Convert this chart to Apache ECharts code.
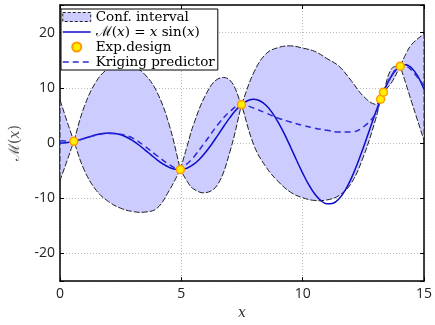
<!DOCTYPE html>
<html>
<head>
<meta charset="utf-8">
<script src="https://cdn.jsdelivr.net/npm/echarts@6/dist/echarts.min.js"></script>
<style>
  html, body { margin: 0; padding: 0; background: #fff; }
  #chart { width: 435px; height: 325px; }
</style>
</head>
<body>
<div id="chart"></div>
<script>
// M(x) = x sin(x), sampled every 0.25
const modelX = [0, 0.25, 0.5, 0.75, 1, 1.25, 1.5, 1.75, 2, 2.25, 2.5, 2.75, 3, 3.25, 3.5, 3.75,
  4, 4.25, 4.5, 4.75, 5, 5.25, 5.5, 5.75, 6, 6.25, 6.5, 6.75, 7, 7.25, 7.5, 7.75,
  8, 8.25, 8.5, 8.75, 9, 9.25, 9.5, 9.75, 10, 10.25, 10.5, 10.75, 11, 11.25, 11.5, 11.75,
  12, 12.25, 12.5, 12.75, 13, 13.25, 13.5, 13.75, 14, 14.25, 14.5, 14.75, 15];
const modelY = [0, 0.06, 0.24, 0.51, 0.84, 1.19, 1.50, 1.72, 1.82, 1.75, 1.50, 1.05, 0.42, -0.35, -1.23, -2.14,
  -3.03, -3.80, -4.40, -4.75, -4.79, -4.51, -3.88, -2.92, -1.68, -0.21, 1.40, 3.04, 4.60, 5.97, 7.04, 7.71,
  7.91, 7.61, 6.79, 5.47, 3.71, 1.61, -0.71, -3.12, -5.44, -7.53, -9.24, -10.43, -11.00, -10.89, -10.07, -8.56,
  -6.44, -3.81, -0.83, 2.33, 5.46, 8.37, 10.85, 12.73, 13.87, 14.16, 13.56, 12.07, 9.75];

// experimental design
const designX = [0.57, 4.96, 7.48, 13.21, 13.33, 14.02];
const designY = [0.31, -4.81, 6.96, 7.93, 9.22, 13.92];

// kriging predictor + confidence bounds
const krigX = [0, 0.3, 0.57, 1, 1.5, 2, 2.5, 3, 3.5, 4, 4.5, 4.96, 5.25, 5.5, 6, 6.5, 7, 7.48,
  8, 8.5, 9, 9.5, 10, 10.5, 11, 11.5, 12, 12.5, 13, 13.21, 13.33, 13.67, 14.02, 14.25, 14.5, 15];
const krigY = [0.4, 0.35, 0.31, 0.85, 1.4, 1.75, 1.6, 0.9, -0.6, -2.3, -3.9, -4.81, -3.7, -2.6, 0.3, 3.3, 5.7, 6.96,
  6.3, 5.4, 4.5, 3.8, 3.2, 2.7, 2.3, 2.0, 2.0, 2.9, 5.3, 7.93, 9.22, 12.3, 13.92, 13.9, 13.1, 10.4];
const ciUpper = [7.8, 3.8, 0.31, 6.6, 11.2, 13.5, 14.1, 13.9, 12.4, 9.2, 3.3, -4.81, -0.4, 3.3, 8.7, 11.6, 11.4, 6.96,
  12.9, 16.2, 17.3, 17.6, 17.2, 16.6, 15.3, 13.9, 11.3, 8.5, 7.0, 7.93, 9.22, 13.5, 13.92, 16.1, 17.9, 19.8];
const ciLower = [-6.8, -3.1, 0.31, -4.9, -8.6, -10.6, -11.8, -12.4, -12.5, -11.8, -8.6, -4.81, -7.0, -8.3, -9.0, -7.5, -1.6, 6.96,
  -0.5, -4.4, -7.0, -8.9, -9.9, -10.4, -10.3, -9.5, -7.3, -2.5, 4.2, 7.93, 9.22, 11.0, 13.92, 10.8, 7.3, 0.5];

const xTicks = [0, 5, 10, 15];
const yTicks = [-20, -10, 0, 10, 20];

const serif = 'DejaVu Serif';
const sans = 'Open Sans';
const SMOOTH = 0.4;

const chart = echarts.init(document.getElementById('chart'));

const frameAxisX = (pos, showLabel) => ({
  type: 'value', position: pos, min: 0, max: 15, interval: 5,
  axisLine: { show: true, onZero: false, lineStyle: { color: '#000', width: 1.5 } },
  axisTick: { show: true, inside: true, length: 4, lineStyle: { color: '#000' } },
  axisLabel: {
    show: showLabel, color: '#222', fontFamily: sans, fontSize: 14, margin: 6,
    formatter: v => (xTicks.includes(v) ? String(v) : '')
  },
  splitLine: { show: showLabel, lineStyle: { color: '#bbb', type: [1, 2] } }
});
const frameAxisY = (pos, showLabel) => ({
  type: 'value', position: pos, min: -25, max: 25, splitNumber: 5,
  axisLine: { show: true, onZero: false, lineStyle: { color: '#000', width: 1.5 } },
  axisTick: { show: true, inside: true, length: 4, lineStyle: { color: '#000' } },
  axisLabel: {
    show: showLabel, color: '#222', fontFamily: sans, fontSize: 14, margin: 5,
    formatter: v => (yTicks.includes(v) ? String(v) : '')
  },
  splitLine: { show: showLabel, lineStyle: { color: '#bbb', type: [1, 2] } }
});

const xAxis0 = Object.assign(frameAxisX('bottom', true), {
  name: 'x', nameLocation: 'middle', nameGap: 24,
  nameTextStyle: { fontFamily: serif, fontStyle: 'italic', fontSize: 14, color: '#333' }
});
const yAxis0 = Object.assign(frameAxisY('left', true), {
  name: '{s|ℳ}({i|x})', nameLocation: 'middle', nameGap: 37, nameRotate: 90,
  nameTextStyle: {
    fontFamily: serif, fontSize: 14, color: '#555',
    rich: {
      s: { fontFamily: serif, fontSize: 15, color: '#555' },
      i: { fontFamily: serif, fontStyle: 'italic', fontSize: 14, color: '#555' }
    }
  }
});

// confidence band: one smoothed lens per gap between design points,
// end points doubled so the edges meet in a point instead of a round cap
function renderBand(params, api) {
  if (params.dataIndex !== 0) return null;
  const cuts = [0];
  krigX.forEach((x, i) => {
    if (i > 0 && i < krigX.length - 1 && ciUpper[i] === ciLower[i]) cuts.push(i);
  });
  cuts.push(krigX.length - 1);
  const children = [];
  for (let k = 0; k < cuts.length - 1; k++) {
    const a = cuts[k], b = cuts[k + 1];
    if (b - a < 2) continue;
    const up = [], lo = [];
    for (let i = a; i <= b; i++) {
      up.push(api.coord([krigX[i], ciUpper[i]]));
      lo.push(api.coord([krigX[i], ciLower[i]]));
    }
    up.unshift(up[0]); up.push(up[up.length - 1]);
    lo.unshift(lo[0]); lo.push(lo[lo.length - 1]);
    children.push({
      type: 'polygon',
      shape: { points: up.concat(lo.reverse()), smooth: SMOOTH },
      style: { fill: '#ccccff', stroke: '#222', lineWidth: 1, lineDash: [6, 2] }
    });
  }
  return { type: 'group', children };
}

const option = {
  animation: false,
  backgroundColor: '#fff',
  grid: { left: 57, right: 9, top: 5, bottom: 28 },
  xAxis: [xAxis0, frameAxisX('top', false)],
  yAxis: [yAxis0, frameAxisY('right', false)],
  legend: {
    left: 61, top: 9, orient: 'vertical',
    itemWidth: 28, itemHeight: 9, itemGap: 1,
    padding: [1, 3, 1, 1],
    backgroundColor: '#fff', borderColor: '#000', borderWidth: 1, borderRadius: 0,
    textStyle: {
      fontFamily: serif, fontSize: 13.5, color: '#000', lineHeight: 14,
      rich: {
        s: { fontFamily: serif, fontSize: 14, color: '#000' },
        i: { fontFamily: serif, fontStyle: 'italic', fontSize: 13.5, color: '#000' },
        r: { fontFamily: serif, fontSize: 13.5, color: '#000' }
      }
    },
    formatter: name => (name === 'model' ? '{s|ℳ}{r|(}{i|x}{r|) = }{i|x}{r| sin(}{i|x}{r|)}' : name),
    data: [
      { name: 'Conf. interval', icon: 'rect',
        itemStyle: { color: '#ccccff', borderColor: '#222', borderWidth: 1, borderType: [3, 2], opacity: 1 } },
      { name: 'model', itemStyle: { opacity: 0 }, lineStyle: { width: 1.5 } },
      { name: 'Exp.design' },
      { name: 'Kriging predictor', itemStyle: { opacity: 0 }, lineStyle: { width: 1.5 } }
    ]
  },
  series: [
    {
      name: 'Conf. interval', type: 'custom', silent: true,
      data: krigX.map((x, i) => [x, ciLower[i], ciUpper[i]]),
      encode: { x: 0, y: [1, 2] },
      itemStyle: { color: '#ccccff' },
      renderItem: renderBand, z: 1
    },
    {
      name: 'model', type: 'line', smooth: 0.4, symbol: 'none',
      data: modelX.map((x, i) => [x, modelY[i]]),
      itemStyle: { color: '#0c0cc8' },
      lineStyle: { color: '#0c0cc8', width: 1.5 }, z: 3
    },
    {
      name: 'Kriging predictor', type: 'line', smooth: SMOOTH, symbol: 'none',
      data: krigX.map((x, i) => [x, krigY[i]]),
      itemStyle: { color: '#2a2ad8' },
      lineStyle: { color: '#2a2ad8', width: 1.5, type: [6, 4] }, z: 4
    },
    {
      name: 'Exp.design', type: 'scatter', symbol: 'circle', symbolSize: 8,
      data: designX.map((x, i) => [x, designY[i]]),
      itemStyle: { color: '#ffee00', borderColor: '#ff9a00', borderWidth: 1.5, opacity: 1 }, z: 5
    }
  ]
};

chart.setOption(option);
window.addEventListener('resize', () => chart.resize());
</script>
</body>
</html>
